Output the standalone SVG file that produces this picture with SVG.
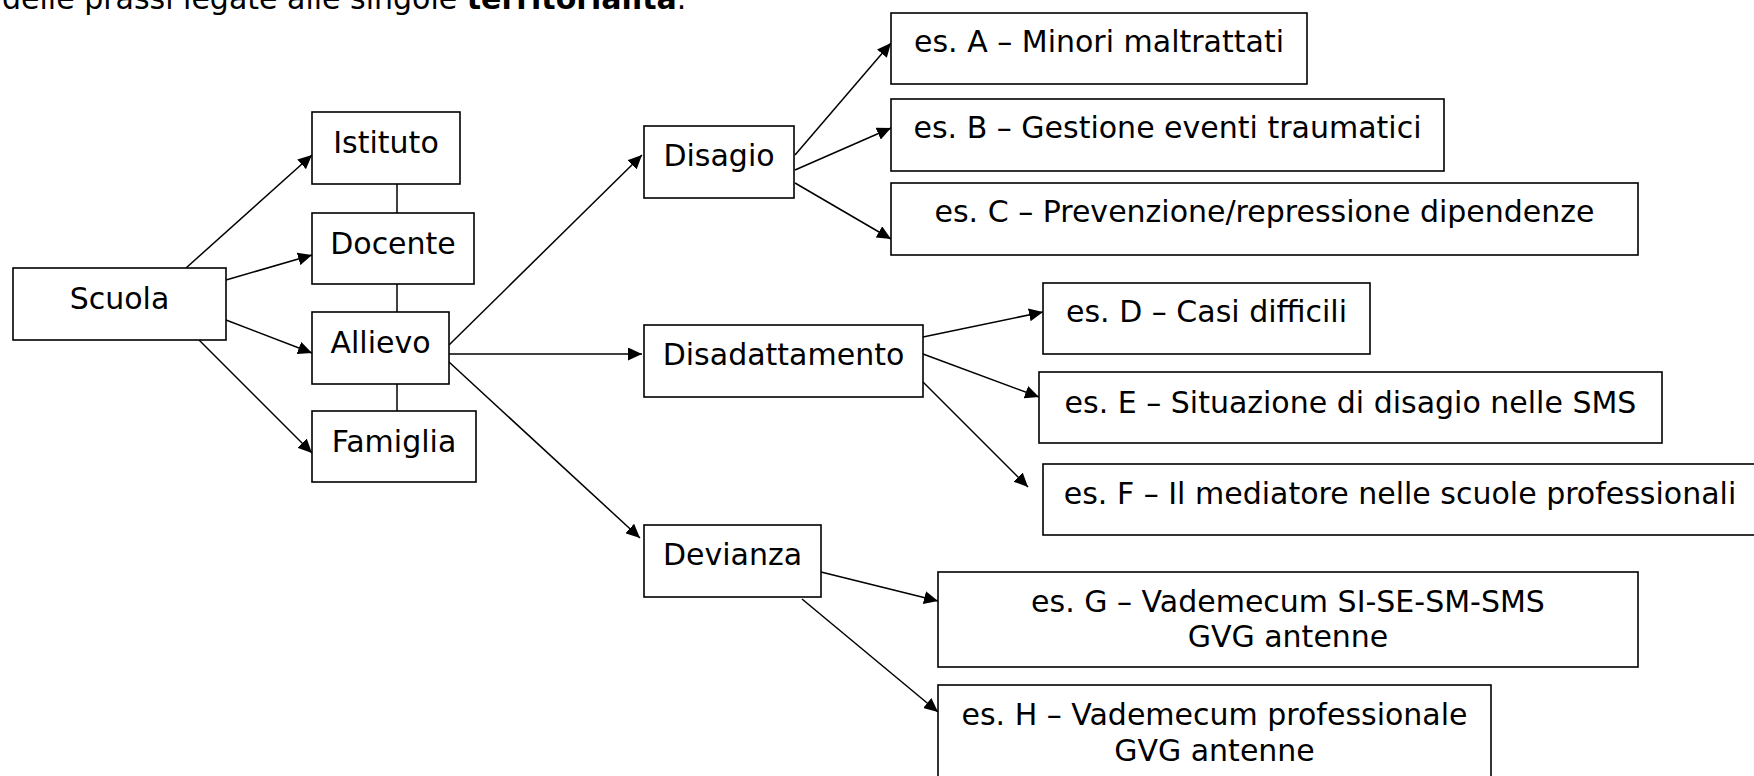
<svg xmlns="http://www.w3.org/2000/svg" width="1754" height="776" viewBox="0 0 1754 776">
  <defs>
    <style>
      .box { fill: #fff; stroke: #000; stroke-width: 1.6; }
      .lbl { font-family: "DejaVu Sans", Verdana, sans-serif; font-size: 30px; fill: #000; text-anchor: middle; }
      .body { font-family: "DejaVu Sans", Verdana, sans-serif; font-size: 30px; fill: #000; }
      .link { stroke: #000; stroke-width: 1.5; fill: none; }
      .arrow { stroke: #000; stroke-width: 1.5; fill: none; marker-end: url(#head); }
    </style>
    <marker id="head" markerUnits="userSpaceOnUse" markerWidth="15" markerHeight="13" refX="14" refY="6.5" orient="auto">
      <path d="M0,0 L14,6.5 L0,13 z" fill="#000"/>
    </marker>
  </defs>
  <rect width="1754" height="776" fill="#fff"/>

  <!-- running text above the chart -->
  <text class="body" x="2" y="9">delle prassi legate alle singole <tspan font-weight="bold">territorialità</tspan>.</text>

  <!-- connectors -->
  <g id="connectors">
    <line class="arrow" x1="186" y1="268" x2="312" y2="155"/>
    <line class="arrow" x1="226" y1="280" x2="312" y2="255"/>
    <line class="arrow" x1="226" y1="320" x2="312" y2="353"/>
    <line class="arrow" x1="199" y1="340" x2="312" y2="453"/>
    <line class="link" x1="397" y1="184" x2="397" y2="213"/>
    <line class="link" x1="397" y1="284" x2="397" y2="312"/>
    <line class="link" x1="397" y1="384" x2="397" y2="411"/>
    <line class="arrow" x1="449" y1="345" x2="642" y2="155"/>
    <line class="arrow" x1="449" y1="354" x2="642" y2="354"/>
    <line class="arrow" x1="449" y1="362" x2="640" y2="538"/>
    <line class="arrow" x1="795" y1="155" x2="891" y2="43"/>
    <line class="arrow" x1="795" y1="170" x2="891" y2="128"/>
    <line class="arrow" x1="795" y1="183" x2="891" y2="239"/>
    <line class="arrow" x1="923" y1="337" x2="1043" y2="312"/>
    <line class="arrow" x1="923" y1="354" x2="1039" y2="397"/>
    <line class="arrow" x1="923" y1="382" x2="1028" y2="487"/>
    <line class="arrow" x1="821" y1="572" x2="938" y2="601"/>
    <line class="arrow" x1="802" y1="599" x2="938" y2="712"/>
  </g>

  <!-- first level -->
  <g id="scuola"><rect class="box" x="13" y="268" width="213" height="72"/><text class="lbl" x="119.5" y="309">Scuola</text></g>
  <g id="istituto"><rect class="box" x="312" y="112" width="148" height="72"/><text class="lbl" x="386" y="153">Istituto</text></g>
  <g id="docente"><rect class="box" x="312" y="213" width="162" height="71"/><text class="lbl" x="393" y="254">Docente</text></g>
  <g id="allievo"><rect class="box" x="312" y="312" width="137" height="72"/><text class="lbl" x="380.5" y="353">Allievo</text></g>
  <g id="famiglia"><rect class="box" x="312" y="411" width="164" height="71"/><text class="lbl" x="394" y="452">Famiglia</text></g>

  <!-- second level -->
  <g id="disagio"><rect class="box" x="644" y="126" width="150" height="72"/><text class="lbl" x="719" y="166">Disagio</text></g>
  <g id="disadattamento"><rect class="box" x="644" y="325" width="279" height="72"/><text class="lbl" x="783.5" y="365">Disadattamento</text></g>
  <g id="devianza"><rect class="box" x="644" y="525" width="177" height="72"/><text class="lbl" x="732.5" y="565">Devianza</text></g>

  <!-- examples -->
  <g id="es-a"><rect class="box" x="891" y="13" width="416" height="71"/><text class="lbl" x="1099" y="52">es. A – Minori maltrattati</text></g>
  <g id="es-b"><rect class="box" x="891" y="99" width="553" height="72"/><text class="lbl" x="1167.5" y="138">es. B – Gestione eventi traumatici</text></g>
  <g id="es-c"><rect class="box" x="891" y="183" width="747" height="72"/><text class="lbl" x="1264.5" y="222">es. C – Prevenzione/repressione dipendenze</text></g>
  <g id="es-d"><rect class="box" x="1043" y="283" width="327" height="71"/><text class="lbl" x="1206.5" y="322">es. D – Casi difficili</text></g>
  <g id="es-e"><rect class="box" x="1039" y="372" width="623" height="71"/><text class="lbl" x="1350.5" y="413">es. E – Situazione di disagio nelle SMS</text></g>
  <g id="es-f"><rect class="box" x="1043" y="464" width="714" height="71"/><text class="lbl" x="1400" y="504">es. F – Il mediatore nelle scuole professionali</text></g>
  <g id="es-g"><rect class="box" x="938" y="572" width="700" height="95"/><text class="lbl" x="1288" y="612">es. G – Vademecum SI-SE-SM-SMS</text><text class="lbl" x="1288" y="647">GVG antenne</text></g>
  <g id="es-h"><rect class="box" x="938" y="685" width="553" height="100"/><text class="lbl" x="1214.5" y="725">es. H – Vademecum professionale</text><text class="lbl" x="1214.5" y="761">GVG antenne</text></g>
</svg>
